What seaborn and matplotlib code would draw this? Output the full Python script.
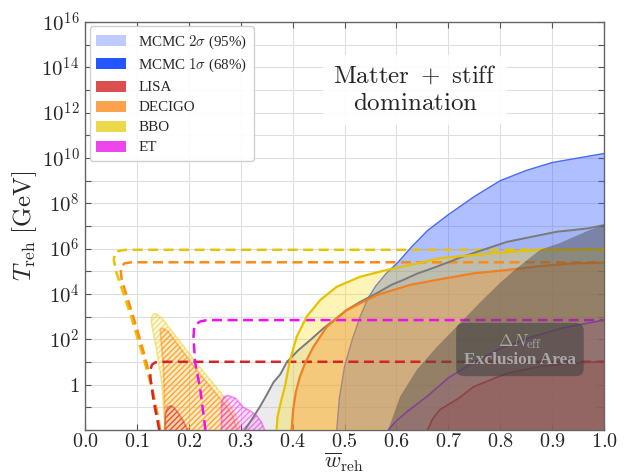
import numpy as np
import matplotlib
matplotlib.use("Agg")
import matplotlib.pyplot as plt
from matplotlib.patches import Patch
import seaborn as sns

# ---------------- data (w_reh, log10 T_reh/GeV) ----------------
# MCMC allowed region (upper boundary)
mcmc_w = [0.485, 0.49, 0.50, 0.515, 0.53, 0.545, 0.56, 0.58, 0.603, 0.63, 0.66, 0.70, 0.75, 0.80, 0.85, 0.90, 0.95, 1.0]
mcmc_p = [-2.0, -0.6, 0.8, 2.0, 3.0, 3.8, 4.35, 4.9, 5.4, 6.1, 6.8, 7.5, 8.3, 9.0, 9.45, 9.8, 10.0, 10.2]

# light grey boundary line
grey_w = [0.308, 0.325, 0.337, 0.350, 0.363, 0.376, 0.389, 0.41, 0.434, 0.46, 0.485, 0.504, 0.53, 0.562, 0.59, 0.613,
          0.64, 0.671, 0.70, 0.722, 0.748, 0.78, 0.813, 0.845, 0.877, 0.91, 0.94, 0.97, 1.0]
grey_p = [-2.0, -1.4, -0.97, -0.45, 0.1, 0.45, 1.0, 1.5, 1.97, 2.5, 2.94, 3.29, 3.65, 4.03, 4.4, 4.62,
          4.9, 5.15, 5.4, 5.6, 5.8, 6.05, 6.3, 6.45, 6.6, 6.75, 6.82, 6.9, 7.04]

# Delta N_eff exclusion boundary
neff_w = [0.584, 0.607, 0.639, 0.678, 0.716, 0.76, 0.80, 0.83, 0.877, 0.915, 0.94, 0.97, 1.0]
neff_p = [-2.0, -0.53, 0.65, 1.67, 2.56, 3.6, 4.5, 5.1, 5.95, 6.25, 6.5, 6.8, 7.04]

# detector sensitivity boundaries (solid)
bbo_w = [0.369, 0.371, 0.378, 0.385, 0.395, 0.408, 0.427, 0.453, 0.485, 0.53, 0.581, 0.626, 0.684, 0.748, 0.81, 0.877, 1.0]
bbo_p = [-2.0, -1.41, -0.7, -0.09, 1.09, 2.12, 3.0, 3.73, 4.32, 4.76, 5.06, 5.28, 5.58, 5.72, 5.84, 5.95, 5.98]

decigo_w = [0.398, 0.401, 0.406, 0.414, 0.425, 0.44, 0.466, 0.504, 0.562, 0.626, 0.684, 0.748, 0.813, 0.877, 0.94, 1.0]
decigo_p = [-2.0, -1.12, -0.35, 0.35, 1.0, 1.67, 2.56, 3.29, 3.95, 4.4, 4.65, 4.91, 5.06, 5.23, 5.35, 5.38]

et_w = [0.584, 0.60, 0.62, 0.66, 0.70, 0.75, 0.80, 0.86, 0.92, 1.0]
et_p = [-2.0, -1.6, -1.2, -0.5, 0.3, 1.0, 1.6, 2.1, 2.5, 2.85]

lisa_w = [0.66, 0.67, 0.684, 0.72, 0.748, 0.78, 0.813, 0.877, 0.94, 1.0]
lisa_p = [-2.0, -1.5, -1.1, -0.6, -0.1, 0.2, 0.5, 0.8, 0.95, 1.02]

# detector sensitivity boundaries (dashed)
bbo_d_w = [0.1445, 0.141, 0.128, 0.112, 0.0867, 0.061, 0.0555, 0.057, 0.063, 0.074, 0.09, 1.0]
bbo_d_p = [-2.0, -1.41, -0.09, 1.23, 3.15, 4.91, 5.5, 5.75, 5.88, 5.94, 5.95, 5.95]

decigo_d_w = [0.1445, 0.13, 0.1156, 0.093, 0.0707, 0.069, 0.071, 0.077, 0.09, 1.0]
decigo_d_p = [-2.0, -0.2, 1.23, 3.0, 4.62, 5.0, 5.25, 5.36, 5.40, 5.40]

lisa_d_w = [0.143, 0.132, 0.126, 0.126, 0.129, 0.135, 0.145, 1.0]
lisa_d_p = [-2.0, -0.7, 0.3, 0.65, 0.88, 0.98, 1.01, 1.01]

et_d_w = [0.232, 0.222, 0.212, 0.209, 0.210, 0.214, 0.222, 0.235, 1.0]
et_d_p = [-2.0, -0.2, 1.0, 2.1, 2.45, 2.66, 2.79, 2.85, 2.85]

# hatched low-w regions (closed outlines)
bbo_h_w = [0.154, 0.148, 0.138, 0.128, 0.128, 0.132, 0.138, 0.151, 0.183, 0.215, 0.247, 0.273, 0.292, 0.299]
bbo_h_p = [-2.0, 0.06, 1.53, 2.7, 2.95, 3.12, 3.12, 2.85, 1.9, 0.94, 0.06, -0.68, -1.41, -2.0]

decigo_h_w = [0.156, 0.153, 0.151, 0.146, 0.145, 0.149, 0.16, 0.177, 0.215, 0.247, 0.273, 0.285, 0.293]
decigo_h_p = [-2.0, -0.7, 0.8, 2.1, 2.42, 2.5, 2.35, 1.82, 0.65, -0.24, -0.97, -1.4, -2.0]

lisa_h_w = [0.153, 0.155, 0.159, 0.165, 0.171, 0.178, 0.188, 0.198]
lisa_h_p = [-2.0, -1.3, -1.0, -0.93, -1.0, -1.2, -1.55, -2.0]

et_h_w = [0.263, 0.263, 0.267, 0.275, 0.29, 0.305, 0.318, 0.33, 0.34, 0.346]
et_h_p = [-2.0, -0.8, -0.55, -0.47, -0.6, -1.0, -1.15, -1.35, -1.65, -2.0]

# axis ticks
x_ticks = [0.0, 0.1, 0.2, 0.3, 0.4, 0.5, 0.6, 0.7, 0.8, 0.9, 1.0]
y_decades = list(range(-2, 17))
y_labelled = [0, 2, 4, 6, 8, 10, 12, 14, 16]

legend_labels = ["MCMC $2\\sigma$ (95%)", "MCMC $1\\sigma$ (68%)", "LISA", "DECIGO", "BBO", "ET"]
legend_colors = ["#bfcbff", "#2456ff", "#dc4f4f", "#fba24c", "#ecd84c", "#ec46ec"]

# ---------------- style ----------------
sns.set_theme(style="whitegrid")
plt.rcParams["font.family"] = ["serif"]
plt.rcParams["font.serif"] = ["Liberation Serif", "DejaVu Serif"]
plt.rcParams["mathtext.fontset"] = "cm"
plt.rcParams["hatch.linewidth"] = 0.9

c_yel, c_ora, c_red, c_mag = "#e8c400", "#ff8a14", "#d42424", "#ee10ee"

fig = plt.figure(figsize=(6.28, 4.74), dpi=100)
ax = fig.add_axes([0.1354, 0.0928, 0.8264, 0.8608])
ax.set_yscale("log")


def T(p):
    return 10.0 ** np.asarray(p, dtype=float)


def region(ws, ps, **kw):
    xs = list(ws) + [1.0, 1.0]
    ys = list(ps) + [ps[-1], -2.0]
    ax.fill(xs, T(ys), **kw)


# light grey band below the grey line
region(grey_w, grey_p, facecolor="#b8b8b8", alpha=0.28, lw=0, zorder=1)
# MCMC region
region(mcmc_w, mcmc_p, facecolor="#3a60ff", alpha=0.40, lw=0, zorder=2)
sns.lineplot(x=mcmc_w, y=T(mcmc_p), ax=ax, color="#4a6cf5", lw=1.0, sort=False, estimator=None, zorder=2)

# detector regions
region(bbo_w, bbo_p, facecolor="#ffd800", alpha=0.28, lw=0, zorder=3)
region(decigo_w, decigo_p, facecolor="#ff8a14", alpha=0.30, lw=0, zorder=3)
region(et_w, et_p, facecolor="#d040d0", alpha=0.22, lw=0, zorder=3)
region(lisa_w, lisa_p, facecolor="#d43030", alpha=0.22, lw=0, zorder=3)

# hatched regions
for hw, hp, col in [(bbo_h_w, bbo_h_p, "#ecd030"), (decigo_h_w, decigo_h_p, "#ff8a14"),
                    (lisa_h_w, lisa_h_p, "#d43030"), (et_h_w, et_h_p, "#ee30ee")]:
    ax.fill(hw, T(hp), facecolor=matplotlib.colors.to_rgba(col, 0.14), edgecolor="none", zorder=3)
    ax.fill(hw, T(hp), facecolor="none", edgecolor=matplotlib.colors.to_rgba(col, 0.6),
            hatch="//////", lw=0, zorder=3)
    ax.plot(hw, T(hp), color=col, alpha=0.5, lw=1.2, zorder=3)

# dashed sensitivity curves
dash = (0, (4, 2.2))
for dw, dp, col in [(bbo_d_w, bbo_d_p, c_yel), (decigo_d_w, decigo_d_p, c_ora),
                    (lisa_d_w, lisa_d_p, c_red), (et_d_w, et_d_p, c_mag)]:
    sns.lineplot(x=dw, y=T(dp), ax=ax, color=col, lw=1.8, linestyle=dash, sort=False, estimator=None, zorder=4)

# solid boundaries
sns.lineplot(x=grey_w, y=T(grey_p), ax=ax, color="#7a7a7a", lw=1.4, sort=False, estimator=None, zorder=5)
sns.lineplot(x=bbo_w, y=T(bbo_p), ax=ax, color="#e6c200", lw=1.6, sort=False, estimator=None, zorder=5)
sns.lineplot(x=decigo_w, y=T(decigo_p), ax=ax, color="#f08024", lw=1.6, sort=False, estimator=None, zorder=5)
sns.lineplot(x=et_w, y=T(et_p), ax=ax, color="#b040c8", lw=1.2, sort=False, estimator=None, zorder=5)
sns.lineplot(x=lisa_w, y=T(lisa_p), ax=ax, color="#c04040", lw=1.2, sort=False, estimator=None, zorder=5)

# Delta N_eff exclusion
region(neff_w, neff_p, facecolor="#4a4a4a", alpha=0.45, lw=0, zorder=6)

# ---------------- axes ----------------
ax.set_xlim(0.0, 1.0)
ax.set_ylim(T(-2), T(16))
ax.set_xticks(x_ticks)
ax.set_xticklabels([f"${v:.1f}$" for v in x_ticks])
ax.set_yticks(T(y_decades))
ylabs = []
for d in y_decades:
    if d in y_labelled:
        ylabs.append("$1$" if d == 0 else f"$10^{{{d}}}$")
    else:
        ylabs.append("")
ax.set_yticklabels(ylabs)
ax.yaxis.set_minor_locator(matplotlib.ticker.NullLocator())
ax.tick_params(axis="both", which="major", labelsize=15, direction="in", length=4, width=0.8,
               color="#555555", top=True, right=True, left=True, bottom=True, pad=4)
ax.tick_params(axis="x", pad=2, labelsize=14.5)
ax.grid(True, color="#dedede", lw=0.8)
ax.set_axisbelow(True)
for s in ax.spines.values():
    s.set_color("#666666")
    s.set_linewidth(1.0)

ax.set_xlabel("$\\overline{w}_{\\rm reh}$", fontsize=16)
ax.xaxis.label.set_verticalalignment("bottom")
ax.xaxis.set_label_coords(0.5, -0.109)
ax.set_ylabel("$T_{\\rm reh}\\ [\\mathrm{GeV}]$", fontsize=18, labelpad=2)

# annotations
ax.text(0.636, T(13.0), "$\\mathrm{Matter}\\ +\\ \\mathrm{stiff}$\n$\\mathrm{domination}$",
        fontsize=18, ha="center", va="center", zorder=8, linespacing=1.3,
        bbox=dict(boxstyle="round,pad=0.4", fc="white", ec="none", alpha=0.9))
ax.text(0.838, T(1.53), "$\\Delta N_{\\rm eff}$\nExclusion Area", fontsize=12.5, fontweight="bold",
        color="#a8a8a8", ha="center", va="center", zorder=8, linespacing=1.15,
        bbox=dict(boxstyle="round,pad=0.45", fc="#444444", ec="none", alpha=0.6))

handles = [Patch(facecolor=c, edgecolor="none") for c in legend_colors]
ax.legend(handles, legend_labels, loc="upper left", fontsize=10.8, frameon=True,
          framealpha=0.92, edgecolor="#cccccc", borderpad=0.45, labelspacing=0.42,
          handlelength=2.0, handleheight=0.75, handletextpad=0.8, borderaxespad=0.3)

fig.savefig("out.png", dpi=100)
